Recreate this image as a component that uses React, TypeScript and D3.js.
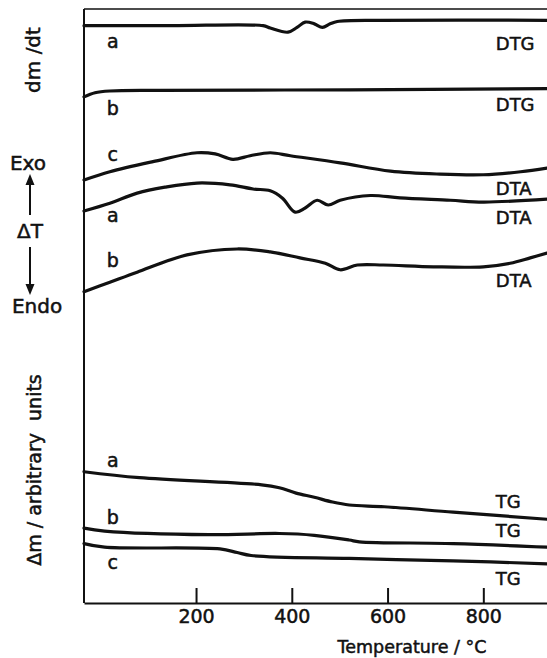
import React, { useEffect, useRef } from "react";
import * as d3 from "d3";

type Pt = [number, number];

// temperature (°C), signal (arbitrary units, 0..100 over the frame height)
const dtgA: Pt[] = [
  [-34, 97.2], [150, 97.2], [340, 97.2], [355, 96.8], [392, 96.1], [411, 96.9],
  [428, 97.8], [447, 97.5], [464, 96.9], [480, 97.5], [495, 97.9], [585, 98.1], [933, 98.1],
];
const dtgB: Pt[] = [
  [-34, 85.2], [-11, 85.9], [20, 86.2], [125, 86.3], [522, 86.4], [933, 86.6],
];
const dtaC: Pt[] = [
  [-34, 71.2], [20, 72.6], [110, 74.3], [202, 75.8], [240, 75.6], [277, 74.7],
  [313, 75.3], [355, 75.8], [397, 75.3], [501, 74.1], [606, 72.7], [710, 72.2],
  [800, 72.1], [878, 72.6], [933, 73.2],
];
const dtaA: Pt[] = [
  [-34, 66.0], [20, 67.3], [77, 69.0], [135, 70.0], [202, 70.7], [271, 70.4],
  [319, 69.7], [355, 69.4], [380, 68.2], [407, 65.8], [428, 66.5], [453, 67.8],
  [476, 67.0], [501, 67.8], [564, 68.6], [626, 68.2], [731, 67.8], [800, 67.5], [933, 68.0],
];
const dtaB: Pt[] = [
  [-34, 52.4], [20, 54.0], [77, 55.7], [181, 58.6], [286, 59.6], [355, 59.1],
  [417, 58.1], [470, 57.2], [501, 56.1], [537, 56.9], [591, 56.9], [696, 56.6],
  [800, 56.6], [856, 57.2], [898, 58.1], [933, 58.9],
];
const tgA: Pt[] = [
  [-34, 22.1], [82, 21.1], [337, 19.9], [374, 19.4], [409, 18.5], [447, 17.8],
  [485, 17.0], [520, 16.5], [593, 16.2], [737, 15.3], [933, 14.1],
];
const tgB: Pt[] = [
  [-34, 12.6], [9, 12.1], [227, 11.5], [374, 11.7], [447, 11.4], [520, 10.6],
  [541, 10.3], [737, 10.0], [933, 9.4],
];
const tgC: Pt[] = [
  [-34, 10.0], [9, 9.4], [250, 9.1], [286, 8.5], [315, 8.0], [520, 7.5],
  [737, 7.1], [933, 6.6],
];

const xTicks = [200, 400, 600, 800];

// letter on the left, name on the right, and the baseline of each (signal units)
const curves = [
  { data: dtgA, letter: "a", name: "DTG", letterAt: 93.4, nameAt: 93.1 },
  { data: dtgB, letter: "b", name: "DTG", letterAt: 82.2, nameAt: 82.8 },
  { data: dtaC, letter: "c", name: "DTA", letterAt: 74.4, nameAt: 68.7 },
  { data: dtaA, letter: "a", name: "DTA", letterAt: 64.1, nameAt: 63.8 },
  { data: dtaB, letter: "b", name: "DTA", letterAt: 56.6, nameAt: 53.2 },
  { data: tgA, letter: "a", name: "TG", letterAt: 22.9, nameAt: 16.0 },
  { data: tgB, letter: "b", name: "TG", letterAt: 13.3, nameAt: 11.1 },
  { data: tgC, letter: "c", name: "TG", letterAt: 5.7, nameAt: 3.0 },
];

const FONT = "'DejaVu Sans', sans-serif";
const INK = "#111";

export default function App() {
  const ref = useRef<SVGSVGElement>(null);

  useEffect(() => {
    if (!ref.current) return;
    const svg = d3.select(ref.current);
    svg.selectAll("*").remove();

    const x = d3.scaleLinear().domain([-34, 933]).range([84, 547]);
    const y = d3.scaleLinear().domain([0, 100]).range([603, 9]);

    // frame: thin top line, left axis
    svg.append("line")
      .attr("x1", x(-34)).attr("x2", x(933))
      .attr("y1", y(100)).attr("y2", y(100))
      .attr("stroke", INK).attr("stroke-width", 1.5);
    svg.append("line")
      .attr("x1", x(-34)).attr("x2", x(-34))
      .attr("y1", y(100)).attr("y2", y(0))
      .attr("stroke", INK).attr("stroke-width", 2);

    // bottom axis, ticks pointing inward
    const gx = svg.append("g")
      .attr("transform", `translate(0,${y(0)})`)
      .call(d3.axisBottom(x).tickValues(xTicks).tickSizeInner(-15).tickSizeOuter(0).tickPadding(7));
    gx.select(".domain").attr("stroke", INK).attr("stroke-width", 2);
    gx.selectAll(".tick line").attr("stroke", INK).attr("stroke-width", 2);
    gx.selectAll(".tick text")
      .attr("fill", INK)
      .attr("stroke", INK).attr("stroke-width", 0.5)
      .style("font-family", FONT)
      .style("font-size", "19px");

    // all labels share a slightly heavier look, like the printed figure
    const label = (sel: d3.Selection<SVGTextElement, unknown, null, undefined>, size: number) =>
      sel.style("font-family", FONT).style("font-size", `${size}px`)
        .attr("fill", INK).attr("stroke", INK).attr("stroke-width", 0.5);

    label(svg.append("text"), 17.5)
      .attr("x", 412).attr("y", 653)
      .attr("text-anchor", "middle")
      .text("Temperature / °C");

    const line = d3.line<Pt>()
      .x((d) => x(d[0]))
      .y((d) => y(d[1]))
      .curve(d3.curveCatmullRom.alpha(0.5));

    curves.forEach((c) => {
      svg.append("path")
        .datum(c.data)
        .attr("d", line)
        .attr("fill", "none")
        .attr("stroke", INK)
        .attr("stroke-width", 3.2)
        .attr("stroke-linecap", "round");

      label(svg.append("text"), 19)
        .attr("x", x(26)).attr("y", y(c.letterAt))
        .attr("text-anchor", "middle")
        .text(c.letter);

      label(svg.append("text"), 18)
        .attr("x", x(826)).attr("y", y(c.nameAt))
        .text(c.name);
    });

    // y-axis annotations
    label(svg.append("text"), 20)
      .attr("transform", "translate(40,60) rotate(-90)")
      .attr("text-anchor", "middle")
      .text("dm /dt");

    label(svg.append("text"), 19)
      .attr("transform", "translate(41,470) rotate(-90)")
      .attr("text-anchor", "middle")
      .style("white-space", "pre")
      .text("Δm / arbitrary  units");

    label(svg.append("text"), 20).attr("x", 28).attr("y", 170).attr("text-anchor", "middle").text("Exo");
    label(svg.append("text"), 20).attr("x", 30).attr("y", 238).attr("text-anchor", "middle").text("ΔT");
    label(svg.append("text"), 20).attr("x", 37).attr("y", 313).attr("text-anchor", "middle").text("Endo");

    // arrows
    svg.append("line").attr("x1", 30).attr("x2", 30).attr("y1", 215).attr("y2", 180)
      .attr("stroke", INK).attr("stroke-width", 2);
    svg.append("path").attr("d", "M30,174 L25.5,185 L34.5,185 Z").attr("fill", INK);
    svg.append("line").attr("x1", 30).attr("x2", 30).attr("y1", 247).attr("y2", 288)
      .attr("stroke", INK).attr("stroke-width", 2);
    svg.append("path").attr("d", "M30,295 L25.5,284 L34.5,284 Z").attr("fill", INK);
  }, []);

  return (
    <svg
      ref={ref}
      width={547}
      height={658}
      style={{ position: "absolute", left: 0, top: 0, background: "#fff" }}
    />
  );
}
